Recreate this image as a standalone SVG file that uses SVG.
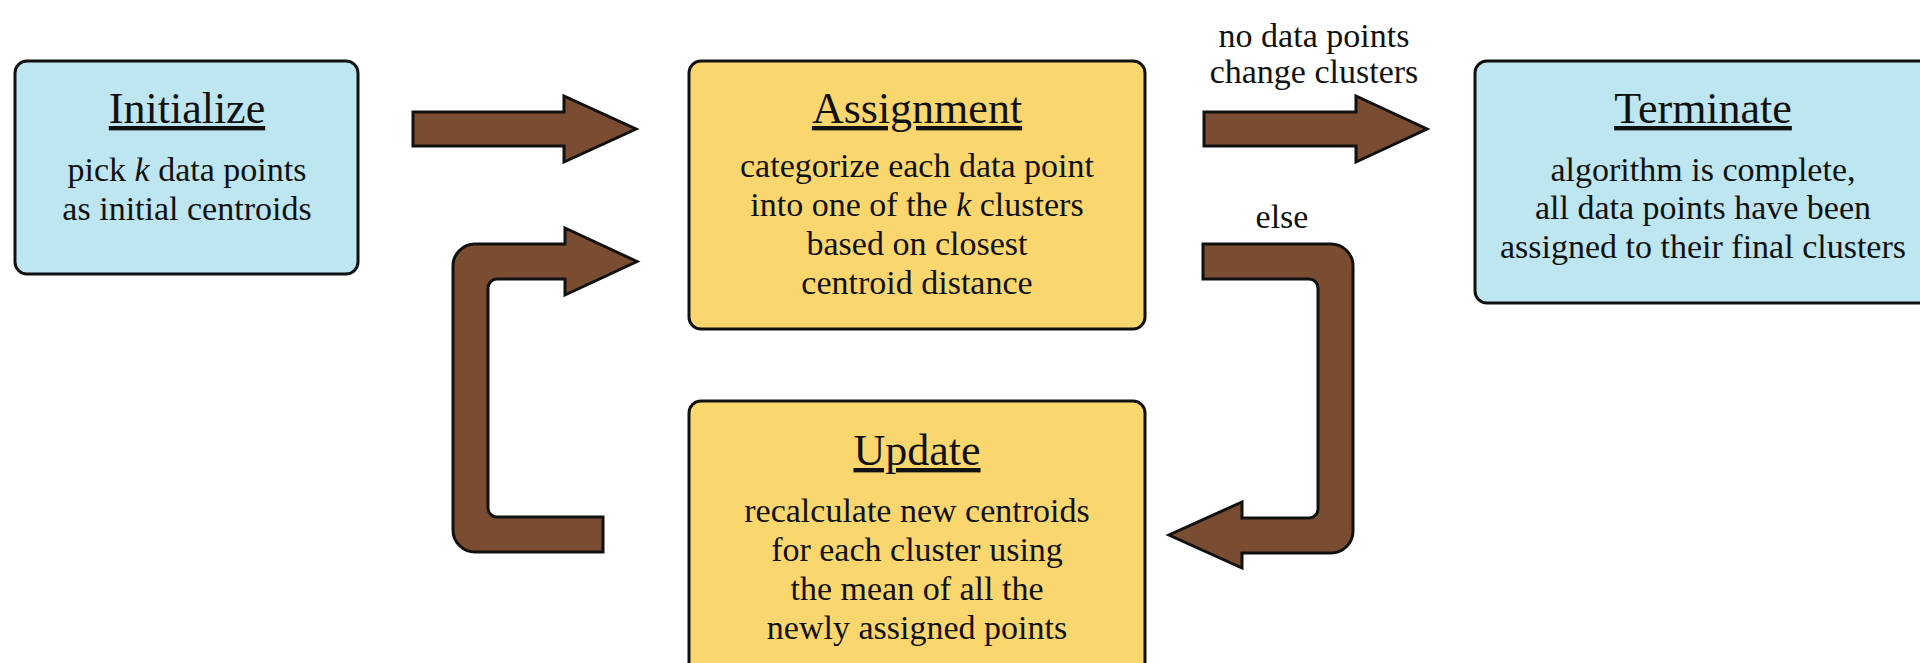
<svg xmlns="http://www.w3.org/2000/svg" width="1920" height="663" viewBox="0 0 1920 663">
<style>
.blue{fill:#bde6f0;stroke:#111;stroke-width:3}
.yellow{fill:#f9d76e;stroke:#111;stroke-width:3}
.arrow{fill:#7a4d33;stroke:#111;stroke-width:3;stroke-linejoin:miter}
text{font-family:"Liberation Serif","Times New Roman",serif;fill:#111;text-anchor:middle}
.title{font-size:44px;text-decoration:underline}
.body{font-size:34px}
.lbl{font-size:34px}
.it{font-style:italic}
</style>
<rect width="1920" height="663" fill="#ffffff"/>
<g id="connectors">
<path class="arrow" d="M 413 112 H 564 V 96 L 636 129 L 564 162 V 146 H 413 Z"/>
<path class="arrow" d="M 1204 112 H 1356 V 96 L 1427 129 L 1356 162 V 146 H 1204 Z"/>
<path class="arrow" d="M 1203 244 H 1331 A 22 22 0 0 1 1353 266 V 531 A 22 22 0 0 1 1331 553 H 1242 V 568 L 1169 535 L 1242 502 V 518 H 1309 A 9 9 0 0 0 1318 509 V 288 A 9 9 0 0 0 1309 279 H 1203 Z"/>
<path class="arrow" d="M 603 517 H 497 A 9 9 0 0 1 488 508 V 288 A 9 9 0 0 1 497 279 H 565 V 295 L 637 261.5 L 565 228 V 244 H 475 A 22 22 0 0 0 453 266 V 530 A 22 22 0 0 0 475 552 H 603 Z"/>
<text class="lbl" x="1314" y="47">no data points</text>
<text class="lbl" x="1314" y="83">change clusters</text>
<text class="lbl" x="1282" y="228">else</text>
</g>
<g id="initialize">
<rect class="blue" x="15" y="61" width="343" height="213" rx="12"/>
<text class="title" x="187" y="123">Initialize</text>
<text class="body" x="187" y="181">pick <tspan class="it">k</tspan> data points</text>
<text class="body" x="187" y="220">as initial centroids</text>
</g>
<g id="assignment">
<rect class="yellow" x="689" y="61" width="456" height="268" rx="12"/>
<text class="title" x="917" y="123">Assignment</text>
<text class="body" x="917" y="177">categorize each data point</text>
<text class="body" x="917" y="216">into one of the <tspan class="it">k</tspan> clusters</text>
<text class="body" x="917" y="255">based on closest</text>
<text class="body" x="917" y="294">centroid distance</text>
</g>
<g id="update">
<rect class="yellow" x="689" y="401" width="456" height="290" rx="12"/>
<text class="title" x="917" y="465">Update</text>
<text class="body" x="917" y="522">recalculate new centroids</text>
<text class="body" x="917" y="561">for each cluster using</text>
<text class="body" x="917" y="600">the mean of all the</text>
<text class="body" x="917" y="639">newly assigned points</text>
</g>
<g id="terminate">
<rect class="blue" x="1475" y="61" width="470" height="242" rx="12"/>
<text class="title" x="1703" y="123">Terminate</text>
<text class="body" x="1703" y="181">algorithm is complete,</text>
<text class="body" x="1703" y="219">all data points have been</text>
<text class="body" x="1703" y="258">assigned to their final clusters</text>
</g>
</svg>
